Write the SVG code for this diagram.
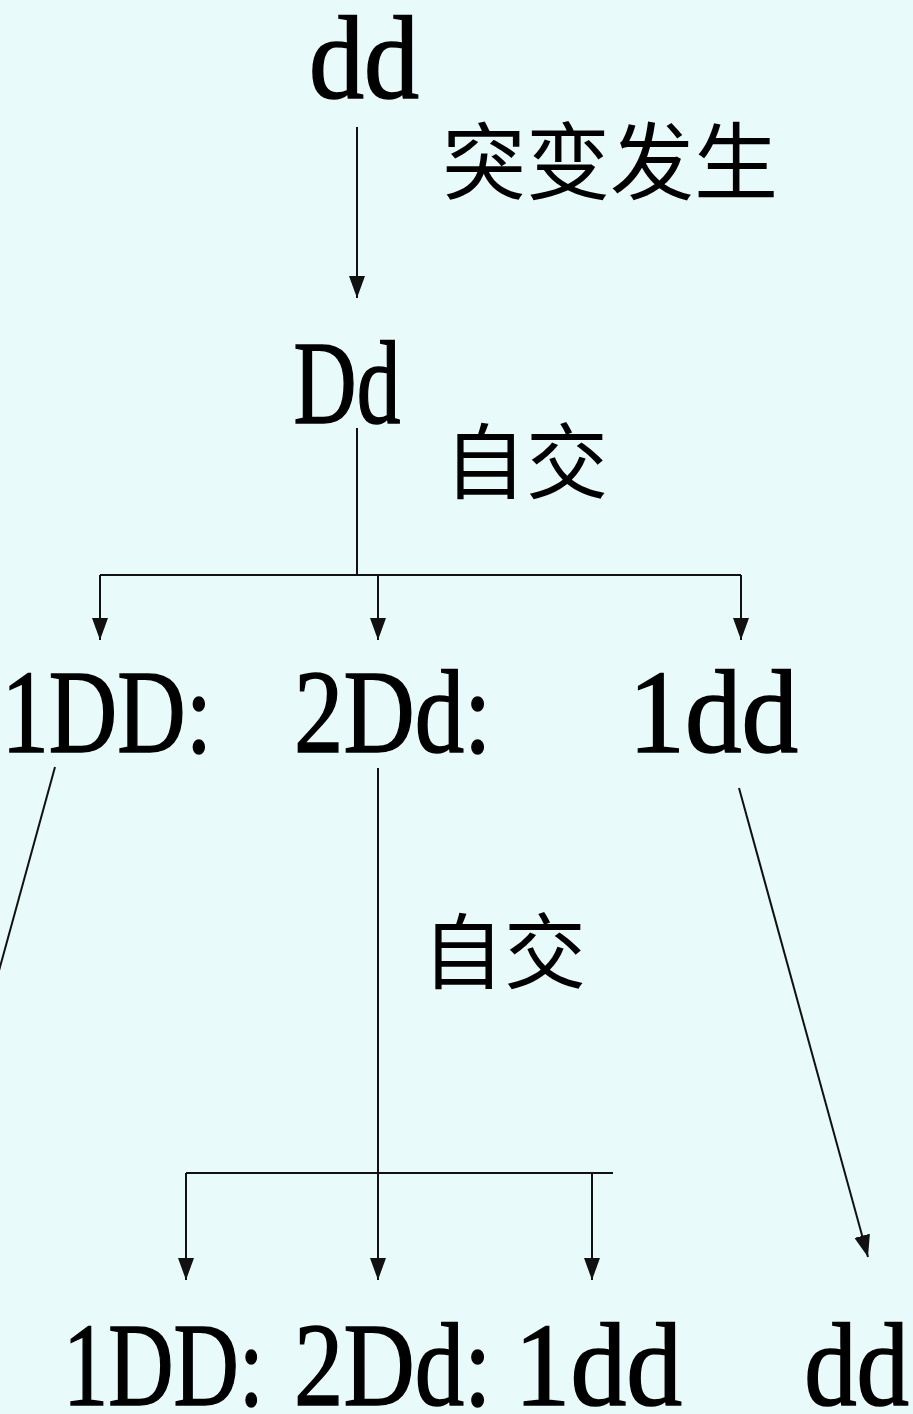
<svg xmlns="http://www.w3.org/2000/svg" width="913" height="1414" viewBox="0 0 913 1414">
<style>
.lat{font-family:"Liberation Serif","Times New Roman",serif;font-size:118px;fill:#000;stroke:#000;stroke-width:1.6px;}
.cjk{font-family:"Noto Sans CJK SC","Noto Sans CJK JP",sans-serif;fill:#000;}
.ln{stroke:#111;stroke-width:2;fill:none;}
</style>
<defs>
<marker id="arr" viewBox="0 0 22 16" markerWidth="22" markerHeight="16" refX="22" refY="8" orient="auto" markerUnits="userSpaceOnUse">
<path d="M0,0 L22,8 L0,16 z" fill="#111"/>
</marker>
</defs>
<rect x="0" y="0" width="913" height="1414" fill="#E8FAFA"/>
<g id="connectors">
<line class="ln" x1="357" y1="127" x2="357" y2="298" marker-end="url(#arr)"/>
<line class="ln" x1="357" y1="428" x2="357" y2="575"/>
<line class="ln" x1="100" y1="575" x2="741" y2="575"/>
<line class="ln" x1="100" y1="575" x2="100" y2="640" marker-end="url(#arr)"/>
<line class="ln" x1="378" y1="575" x2="378" y2="640" marker-end="url(#arr)"/>
<line class="ln" x1="741" y1="575" x2="741" y2="640" marker-end="url(#arr)"/>
<line class="ln" x1="55" y1="767" x2="-3" y2="978"/>
<line class="ln" x1="378" y1="768" x2="378" y2="1280" marker-end="url(#arr)"/>
<line class="ln" x1="186" y1="1173" x2="613" y2="1173"/>
<line class="ln" x1="186" y1="1173" x2="186" y2="1280" marker-end="url(#arr)"/>
<line class="ln" x1="592" y1="1173" x2="592" y2="1280" marker-end="url(#arr)"/>
<line class="ln" x1="739" y1="788" x2="868" y2="1257" marker-end="url(#arr)"/>
</g>
<g id="node-dd-top"><text class="lat" transform="translate(309,98) scale(0.932,1)">dd</text></g>
<g id="label-mutation"><text class="cjk" x="442" y="193" font-size="84">突变发生</text></g>
<g id="node-Dd"><text class="lat" font-size="110" transform="translate(293.6,423) scale(0.74,1)">Dd</text></g>
<g id="label-self-1"><text class="cjk" x="444" y="492" font-size="82">自交</text></g>
<g id="node-1DD"><text class="lat" transform="translate(1.5,752) scale(0.803,1)">1DD:</text></g>
<g id="node-2Dd"><text class="lat" transform="translate(294.1,752) scale(0.836,1)">2Dd:</text></g>
<g id="node-1dd"><text class="lat" transform="translate(628.5,752) scale(0.958,1)">1dd</text></g>
<g id="label-self-2"><text class="cjk" x="422" y="982" font-size="82">自交</text></g>
<g id="node-bottom-1DD"><text class="lat" transform="translate(63,1405) scale(0.766,1)">1DD:</text></g>
<g id="node-bottom-2Dd"><text class="lat" transform="translate(294.1,1405) scale(0.836,1)">2Dd:</text></g>
<g id="node-bottom-1dd"><text class="lat" transform="translate(514.6,1405) scale(0.946,1)">1dd</text></g>
<g id="node-bottom-dd"><text class="lat" transform="translate(804.2,1405) scale(0.888,1)">dd</text></g>
</svg>
